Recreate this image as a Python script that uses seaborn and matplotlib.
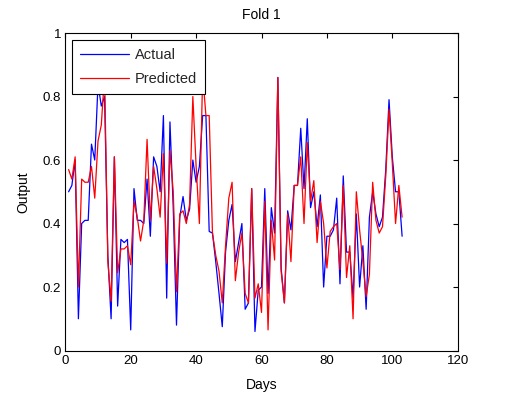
import numpy as np
import pandas as pd
import matplotlib
matplotlib.use("Agg")
import matplotlib.pyplot as plt
import seaborn as sns

days = list(range(1, 104))
actual = [0.50, 0.52, 0.60, 0.10, 0.40, 0.41, 0.41, 0.65, 0.60, 0.84,
          0.77, 0.80, 0.30, 0.10, 0.61, 0.14, 0.35, 0.34, 0.35, 0.065,
          0.51, 0.41, 0.41, 0.40, 0.54, 0.36, 0.61, 0.58, 0.50, 0.74,
          0.165, 0.72, 0.45, 0.08, 0.42, 0.485, 0.41, 0.445, 0.60, 0.53,
          0.58, 0.74, 0.74, 0.375, 0.37, 0.28, 0.18, 0.075, 0.31, 0.41,
          0.46, 0.28, 0.34, 0.40, 0.13, 0.15, 0.51, 0.06, 0.19, 0.20,
          0.51, 0.18, 0.45, 0.37, 0.86, 0.26, 0.15, 0.44, 0.38, 0.52,
          0.52, 0.70, 0.51, 0.73, 0.45, 0.50, 0.39, 0.49, 0.20, 0.36,
          0.36, 0.38, 0.48, 0.21, 0.55, 0.31, 0.31, 0.165, 0.43, 0.20,
          0.33, 0.13, 0.42, 0.50, 0.43, 0.39, 0.42, 0.57, 0.79, 0.61,
          0.50, 0.50, 0.36]
predicted = [0.57, 0.54, 0.61, 0.20, 0.54, 0.53, 0.53, 0.58, 0.48, 0.66,
             0.71, 0.87, 0.28, 0.155, 0.61, 0.245, 0.32, 0.32, 0.33, 0.27,
             0.47, 0.42, 0.345, 0.41, 0.665, 0.41, 0.58, 0.51, 0.42, 0.62,
             0.275, 0.63, 0.50, 0.185, 0.43, 0.44, 0.40, 0.46, 0.80, 0.58,
             0.40, 0.87, 0.74, 0.74, 0.37, 0.30, 0.25, 0.15, 0.33, 0.48,
             0.53, 0.22, 0.31, 0.37, 0.18, 0.15, 0.51, 0.165, 0.21, 0.12,
             0.47, 0.065, 0.41, 0.285, 0.86, 0.25, 0.15, 0.43, 0.28, 0.52,
             0.52, 0.61, 0.40, 0.655, 0.47, 0.535, 0.34, 0.47, 0.40, 0.26,
             0.375, 0.39, 0.40, 0.255, 0.52, 0.23, 0.33, 0.10, 0.50, 0.38,
             0.28, 0.17, 0.24, 0.53, 0.41, 0.37, 0.39, 0.55, 0.76, 0.59,
             0.40, 0.52, 0.42]
series_names = ["Actual", "Predicted"]
colors = ["#0000ff", "#ff0000"]
xticks = [0, 20, 40, 60, 80, 100, 120]
yticks = [0, 0.2, 0.4, 0.6, 0.8, 1]
ytick_labels = ["0", "0.2", "0.4", "0.6", "0.8", "1"]

df = pd.DataFrame({
    "Days": days * 2,
    "Output": actual + predicted,
    "Series": [series_names[0]] * len(days) + [series_names[1]] * len(days),
})

sns.set_theme(style="white")
plt.rcParams["font.family"] = ["Liberation Sans", "DejaVu Sans"]

fig = plt.figure(figsize=(5.16, 3.98), dpi=100)
fig.patch.set_facecolor("white")
ax = fig.add_axes([0.1266, 0.1193, 0.7604, 0.7977])

sns.lineplot(data=df, x="Days", y="Output", hue="Series",
             palette=dict(zip(series_names, colors)), linewidth=0.9,
             ax=ax, estimator=None, sort=False)

ax.set_xlim(0, 120)
ax.set_ylim(0, 1)
ax.set_xticks(xticks)
ax.set_xticklabels([str(t) for t in xticks])
ax.set_yticks(yticks)
ax.set_yticklabels(ytick_labels)
ax.tick_params(direction="in", length=3.5, width=0.8, top=True, right=True,
               labelsize=9.5, colors="black", pad=3)
for s in ax.spines.values():
    s.set_color("black")
    s.set_linewidth(0.8)
ax.set_xlabel("Days", fontsize=10, color="black", labelpad=8)
ax.set_ylabel("Output", fontsize=10, color="black", labelpad=9)
ax.set_title("Fold 1", fontsize=10, color="black", pad=10)

leg = ax.legend(loc="upper left", fontsize=10.5, frameon=True, fancybox=False,
                edgecolor="black", framealpha=1, handlelength=3.4,
                borderaxespad=0.45, borderpad=0.55, labelspacing=0.72,
                handletextpad=0.35)
leg.get_frame().set_linewidth(0.8)

fig.savefig("out.png", dpi=100, facecolor="white")
